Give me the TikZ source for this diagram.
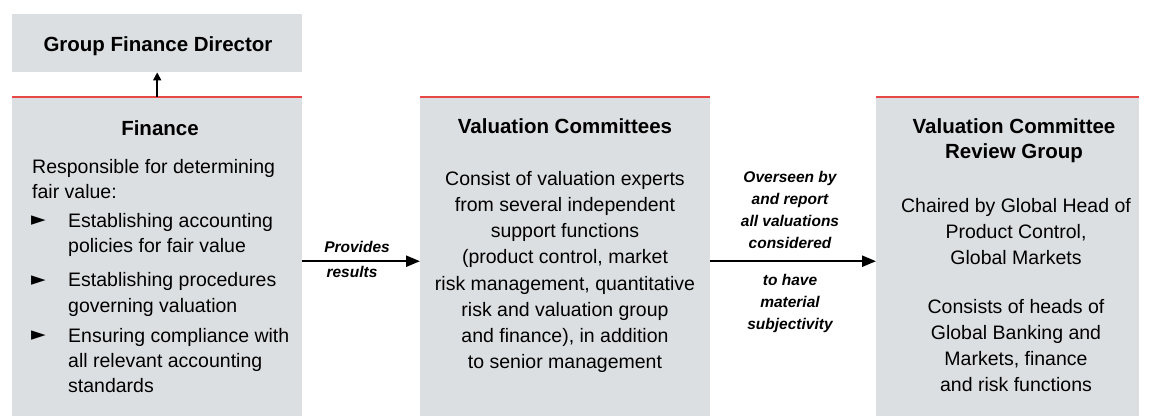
\documentclass[tikz,border=0pt]{standalone}
\usepackage{fontspec}
\setmainfont{Liberation Sans}
\newfontfamily\symbfont{DejaVu Sans}
\usetikzlibrary{arrows.meta, positioning}

\definecolor{boxgray}{RGB}{220,223,225}
\definecolor{redline}{RGB}{230,72,72}

\begin{document}
\begin{tikzpicture}[x=1pt,y=-1pt,
    panel/.style={fill=boxgray, inner sep=0pt, anchor=north west},
    heading/.style={font=\fontsize{20.5}{25}\selectfont\bfseries, align=center, inner sep=0pt, anchor=north},
    bodytext/.style={font=\fontsize{19.5}{26.2}\selectfont, align=center, inner sep=0pt, anchor=north},
    listtext/.style={font=\fontsize{19.5}{25.3}\selectfont, align=left, inner sep=0pt, anchor=north west},
    bullet/.style={font=\symbfont\fontsize{19}{19}\selectfont, inner sep=0pt, anchor=west},
    flowlabel/.style={font=\fontsize{15.5}{22}\selectfont\bfseries\itshape, align=center, inner sep=0pt},
    flow/.style={line width=2.4pt, -{Triangle[length=14pt,width=11pt]}}]

    \useasboundingbox (0,0) rectangle (1149,416);

    % panels
    \node[panel, minimum width=290pt, minimum height=58pt] (director) at (12,14) {};
    \node[panel, minimum width=290pt, minimum height=319pt] (finance) at (12,97) {};
    \node[panel, minimum width=290pt, minimum height=319pt] (committees) at (420,97) {};
    \node[panel, minimum width=263pt, minimum height=319pt] (reviewgroup) at (876,97) {};
    \foreach \b in {finance,committees,reviewgroup}
        \draw[redline, line width=2pt] (\b.north west) -- (\b.north east);

    % headings
    \node[heading] (directortitle) at (158,36.5) {Group Finance Director};
    \node[heading] (financetitle) at (160,120) {Finance};
    \node[heading] (committeestitle) at (565,118.5) {Valuation Committees};
    \node[heading] (reviewtitle) at (1014,118.5) {Valuation Committee\\Review Group};

    % finance text
    \node[listtext] (finintro) at (32,159) {Responsible for determining\\fair value:};
    \node[listtext] (finitem1) at (68,213) {Establishing accounting\\policies for fair value};
    \node[listtext] (finitem2) at (68,272.5) {Establishing procedures\\governing valuation};
    \node[listtext] (finitem3) at (68,328) {Ensuring compliance with\\all relevant accounting\\standards};
    \foreach \y/\n in {221/1,280.5/2,336/3}
        \node[bullet] (bullet\n) at (31,\y) {►};

    % committee text
    \node[bodytext] (committeesbody) at (565,171) {Consist of valuation experts\\from several independent\\support functions\\(product control, market\\risk management, quantitative\\risk and valuation group\\and finance), in addition\\to senior management};

    % review group text
    \node[bodytext] (reviewchair) at (1016,198) {Chaired by Global Head of\\Product Control,\\Global Markets};
    \node[bodytext] (reviewmembers) at (1016,299) {Consists of heads of\\Global Banking and\\Markets, finance\\and risk functions};

    % connectors
    \draw[line width=1.8pt, -{Triangle[length=8pt,width=8pt]}] (finance.north) -- (director.south);
    \draw[flow] ([yshift=-4.5pt]finance.east) -- ([yshift=-4.5pt]committees.west);
    \draw[flow] ([yshift=-4.5pt]committees.east) -- ([yshift=-4.5pt]reviewgroup.west);

    % connector labels
    \node[flowlabel, anchor=base] (provides) at (357,252) {Provides};
    \node[flowlabel, anchor=base] (results) at (352,277) {results};
    \node[flowlabel, anchor=north] (oversee) at (790,171) {Overseen by\\and report\\all valuations\\considered};
    \node[flowlabel, anchor=north] (subject) at (790,274) {to have\\material\\subjectivity};
\end{tikzpicture}
\end{document}
